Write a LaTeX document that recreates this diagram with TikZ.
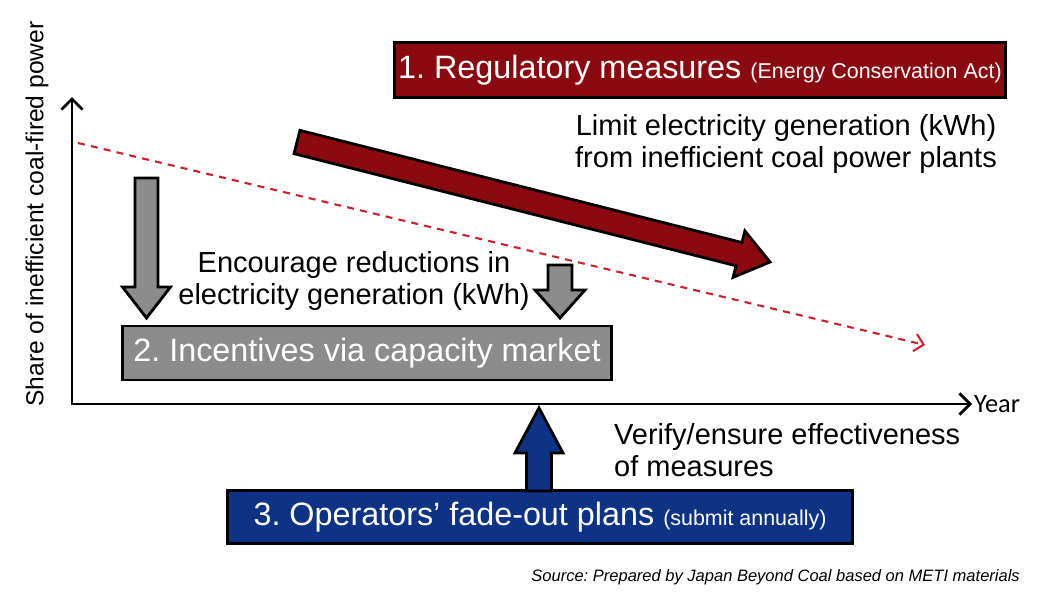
\documentclass[tikz,border=0pt]{standalone}
\usepackage{fontspec}
\setmainfont{Liberation Sans}
\newfontfamily\yearfont{Carlito}
\usetikzlibrary{positioning,arrows.meta}
\definecolor{RegRed}{HTML}{8B0A10}
\definecolor{CapGray}{HTML}{8C8C8C}
\definecolor{PlanBlue}{HTML}{0E3386}
\definecolor{TrendRed}{HTML}{D0202E}
\frenchspacing

% block arrow along +x: #1 style, #2 length, #3 shaft half, #4 head half, #5 head length
\newcommand{\blockarrow}[5]{%
  \draw[#1] (0,-#3) -- ({#2-#5},-#3) -- ({#2-#5},-#4) -- (#2,0)
    -- ({#2-#5},#4) -- ({#2-#5},#3) -- (0,#3) -- cycle;}
\newcommand{\paren}[1]{{\fontsize{12.2}{14}\selectfont #1}}

\begin{document}
\begin{tikzpicture}[x=0.02cm,y=-0.02cm,
      box/.style={draw=black,line width=1.7pt,inner sep=2pt,text=white,font=\fontsize{18.4}{22}\selectfont},
      lbl/.style={align=center,font=\fontsize{16.5}{18.5}\selectfont},
      axis/.style={{Straight Barb[length=6pt,width=12pt]}-{Straight Barb[length=6pt,width=12pt]},line width=1.6pt},
      trend/.style={-{Straight Barb[length=5pt,width=10pt]},TrendRed,line width=1.2pt,dash pattern=on 4pt off 3.5pt},
      blk/.style={draw=black,line width=1.6pt,line join=miter}]
    \useasboundingbox (0,0) rectangle (1039,595);

    % axes
    \coordinate (origin) at (72,404);
    \coordinate (yend) at (72,97);
    \coordinate (xend) at (972,404);
    \draw[axis] (yend) -- (origin) -- (xend);
    \node[right=0pt of xend,inner sep=1pt,font=\yearfont\fontsize{15}{17}\selectfont] (year) {Year};
    \node[rotate=90,font=\fontsize{14}{16}\selectfont] (ylab) at (37,214) {Share of inefficient coal-fired power};

    % trend line
    \coordinate (tstart) at (78,143);
    \coordinate (tend) at (925,345);
    \draw[trend] (tstart) -- (tend);

    % boxes
    \node[box,fill=RegRed,minimum width=607*0.02cm,minimum height=55*0.02cm] (reg) at (700,70)
      {1. Regulatory measures \paren{(Energy Conservation Act)}};
    \node[box,fill=CapGray,minimum width=489*0.02cm,minimum height=54*0.02cm] (cap) at (367,353)
      {2. Incentives via capacity market};
    \node[box,fill=PlanBlue,minimum width=625*0.02cm,minimum height=53*0.02cm] (plan) at (540,517)
      {3. Operators’ fade-out plans \paren{(submit annually)}};

    % labels
    \node[lbl] (limit) at (786,144) {Limit electricity generation (kWh)\\from inefficient coal power plants};
    \node[lbl] (encourage) at (354,281) {Encourage reductions in\\electricity generation (kWh)};
    \node[lbl,align=left,anchor=west] (verify) at (608,450) {Verify/ensure effectiveness\\of measures};
    \node[anchor=east,font=\itshape\fontsize{9.4}{11}\selectfont] (source) at (1026,577)
      {Source: Prepared by Japan Beyond Coal based on METI materials};

    % block arrows
    \begin{scope}[shift={(297,142)},rotate=-14.24]
      \blockarrow{blk,fill=RegRed}{488}{12}{24}{32}
    \end{scope}
    \begin{scope}[shift={(146.5,178)},rotate=-90]
      \blockarrow{blk,fill=CapGray}{140}{11.5}{24}{31}
    \end{scope}
    \begin{scope}[shift={(560,265)},rotate=-90]
      \blockarrow{blk,fill=CapGray}{53}{12}{25}{28}
    \end{scope}
    \begin{scope}[shift={(539,491)},rotate=90]
      \blockarrow{blk,fill=PlanBlue}{83}{12.5}{24}{45}
    \end{scope}
  \end{tikzpicture}
\end{document}
